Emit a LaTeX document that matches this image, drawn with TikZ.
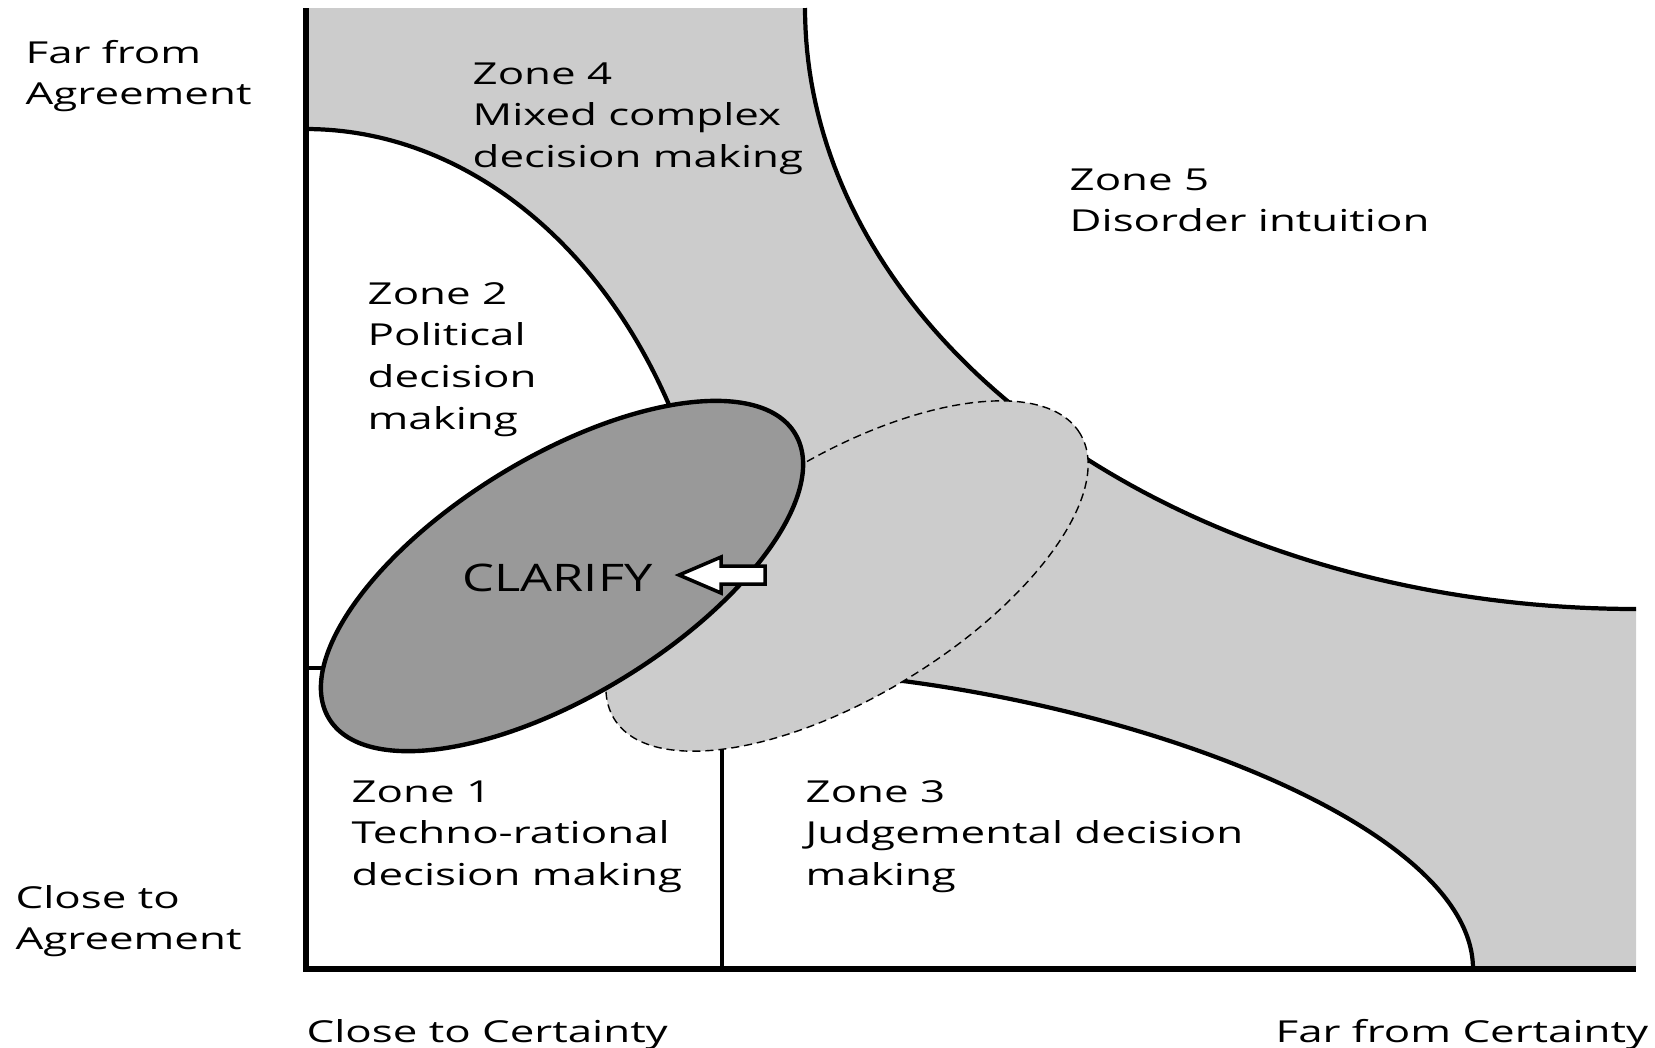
\documentclass[tikz,border=0pt]{standalone}
\usepackage{fontspec}
\setmainfont[FakeStretch=1.45]{Open Sans}
\newfontfamily\clarfont[FakeStretch=1.33]{Open Sans}
\usetikzlibrary{shapes.geometric}
\definecolor{zonegrey}{HTML}{CCCCCC}
\definecolor{darkgrey}{HTML}{999999}
\newcommand\zlines[1]{\vtop{\baselineskip=11.86pt\lineskiplimit=-20pt\lineskip=0pt\halign{##\hfil\cr#1\crcr}}}
\begin{document}
\begin{tikzpicture}[x=0.01cm,y=-0.01cm,
  axisline/.style={line width=1.5pt,line join=miter},
  zoneline/.style={line width=1.2pt},
  thinline/.style={line width=1.05pt},
  zonetext/.style={anchor=base west,inner sep=0pt,font=\fontsize{8.6}{11.86}\selectfont},
  blob/.style={ellipse,inner sep=0pt,minimum width=5.46cm,minimum height=2.38cm,rotate=31.5}]
\useasboundingbox (0,0) rectangle (1655,1047);
% Zone 4 grey band
\fill[zonegrey] (306,8)
  -- plot[domain=0:90,samples=90,variable=\t] ({1636-831*cos(\t)},{8+601*sin(\t)})
  -- (1636,969) -- (1473,969) .. controls (1473,830) and (1150,705) .. (860,676)
  -- (722,668)
  -- plot[domain=0:90,samples=90,variable=\t] ({306+416*cos(\t)},{668-539*sin(\t)})
  -- cycle;
% zone boundaries
\draw[zoneline] plot[domain=0:90,samples=90,variable=\t] ({1636-831*cos(\t)},{8+601*sin(\t)});
\draw[zoneline] plot[domain=0:90,samples=90,variable=\t] ({306+416*cos(\t)},{668-539*sin(\t)});
\draw[zoneline] (1473,969) .. controls (1473,830) and (1150,705) .. (860,676);
\draw[thinline] (306,668) -- (722,668);
\draw[thinline] (722,668) -- (722,969);
% ellipses
\node[blob,fill=zonegrey,draw,dash pattern=on 2.3pt off 1.4pt,line width=0.4pt] (light) at (847,576) {};
\node[blob,fill=darkgrey,draw,line width=1.25pt] (dark) at (562,576) {};
% arrow
\draw[fill=white,line width=1pt,line join=miter] (679,575) -- (721,557) -- (721,566) -- (765,566) -- (765,584) -- (721,584) -- (721,593) -- cycle;
% axes
\draw[axisline] (306,8) -- (306,969) -- (1636,969);
% texts
\node[zonetext] (farA) at (25,63) {\zlines{Far from\cr Agreement}};
\node[zonetext] (closeA) at (15,908) {\zlines{Close to\cr Agreement}};
\node[zonetext] (closeC) at (306,1042) {Close to Certainty};
\node[zonetext] (farC) at (1275,1042) {Far from Certainty};
\node[zonetext] (z4) at (472,84) {\zlines{Zone 4\cr Mixed complex\cr decision making}};
\node[zonetext] (z2) at (367,304) {\zlines{Zone 2\cr Political\cr decision\cr making}};
\node[zonetext] (z5) at (1069,190) {\zlines{Zone 5\cr Disorder intuition}};
\node[zonetext] (z1) at (351,802) {\zlines{Zone 1\cr Techno-rational\cr decision making}};
\node[zonetext] (z3) at (805,802) {\zlines{Zone 3\cr Judgemental decision\cr making}};
\node[anchor=base west,inner sep=0pt,font=\clarfont\fontsize{10.8}{13}\selectfont] (clar) at (462,591) {CLARIFY};
\end{tikzpicture}
\end{document}
